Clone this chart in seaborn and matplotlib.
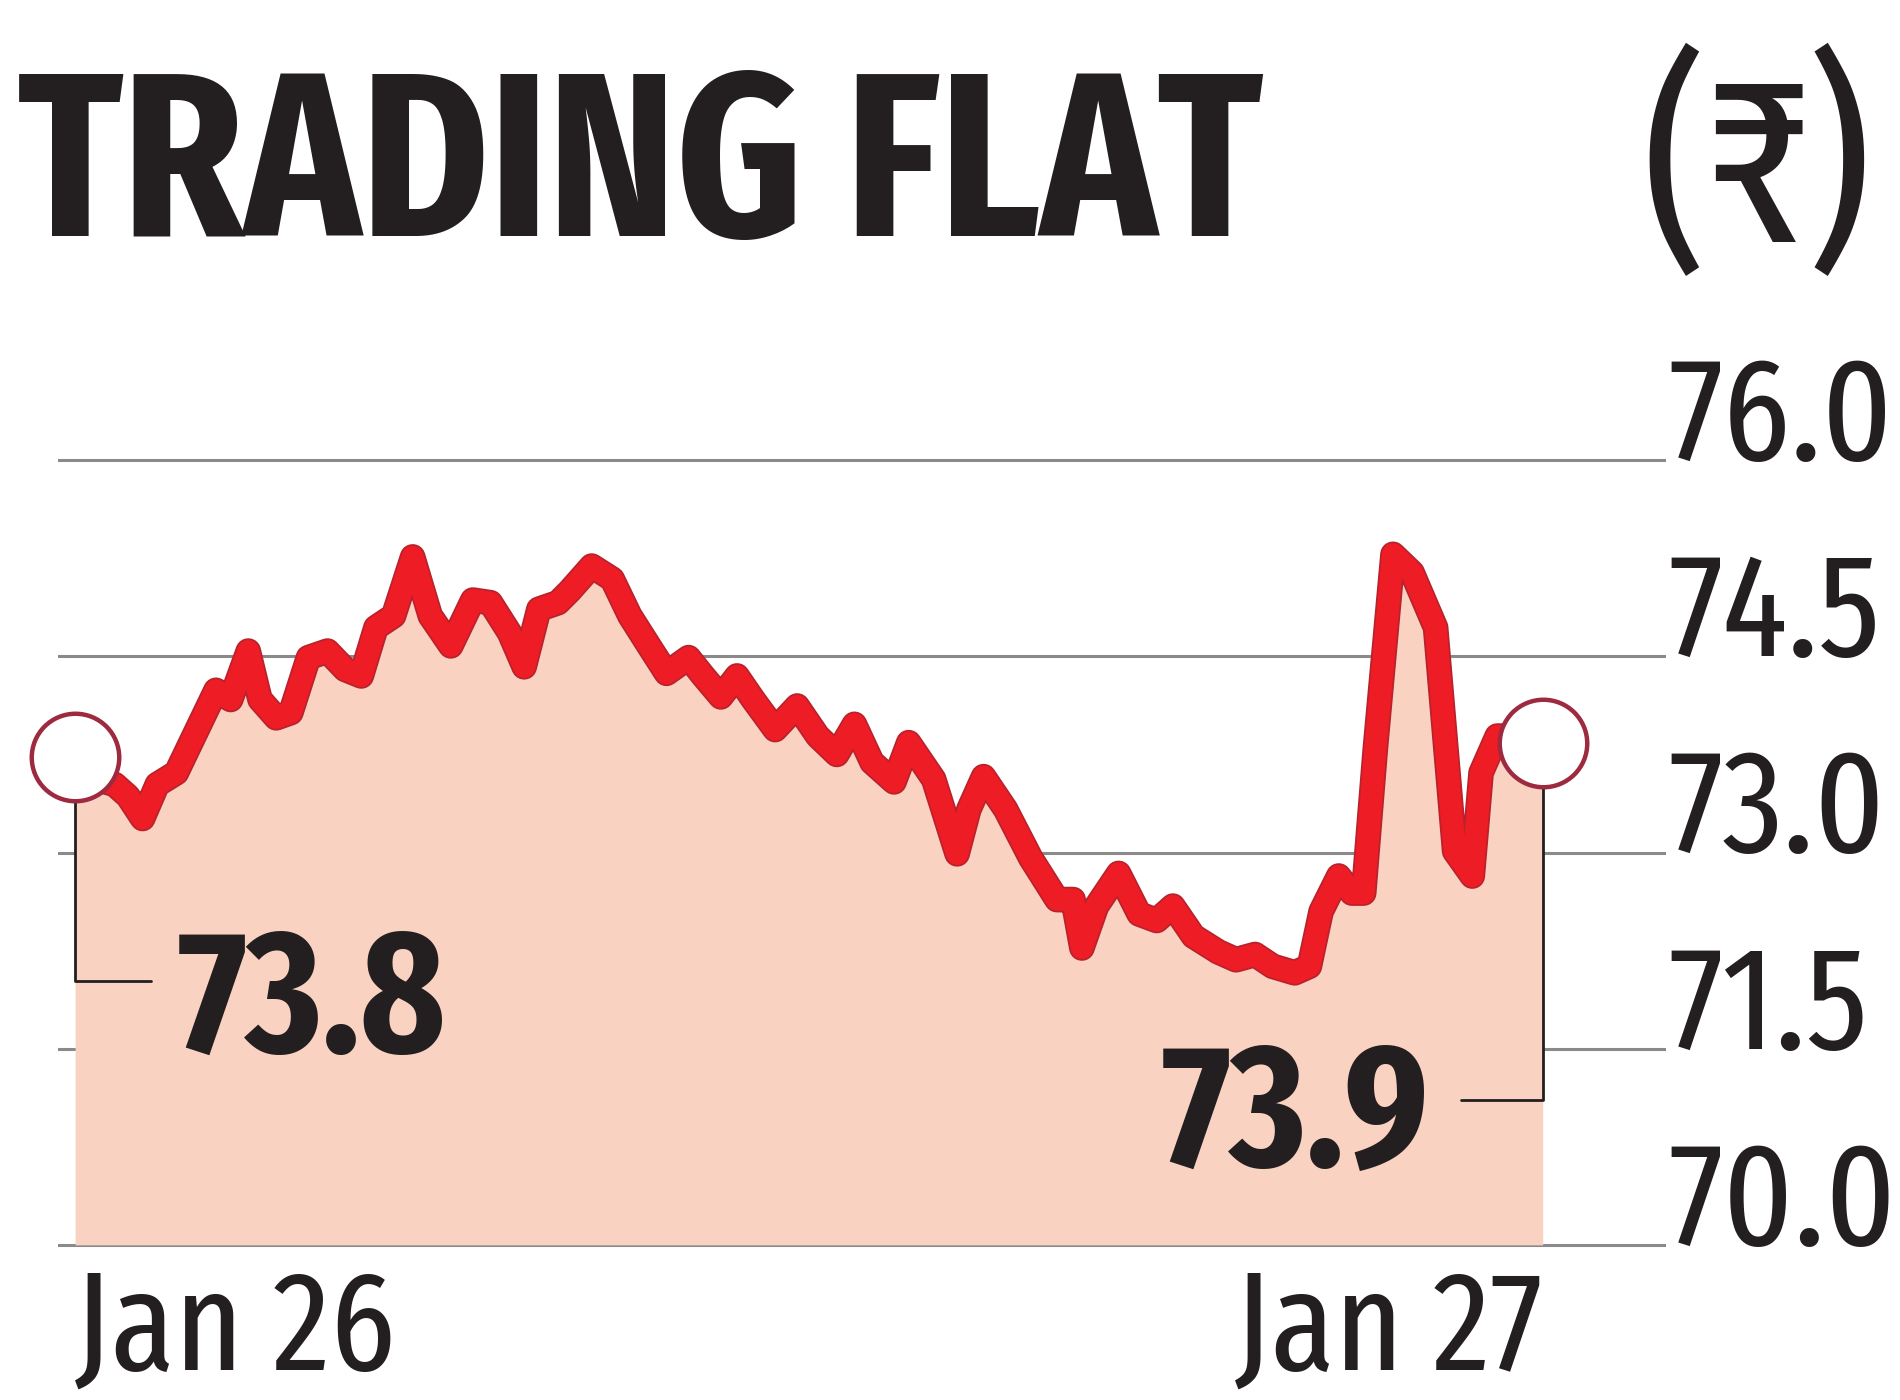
import matplotlib
matplotlib.use("Agg")
import numpy as np
import pandas as pd
import matplotlib.pyplot as plt
import matplotlib.patheffects as pe
from matplotlib import font_manager
import seaborn as sns

# ── Data ────────────────────────────────────────────────────
session_pct = [0.0, 1.5, 2.7, 3.6, 4.6, 5.6, 6.9, 8.1, 9.6, 10.6,
               11.8, 12.6, 13.7, 14.7, 15.9, 17.2, 18.4, 19.5, 20.5, 21.7,
               23.0, 24.2, 25.6, 27.1, 28.3, 29.6, 30.6, 31.6, 32.9, 33.7,
               35.2, 36.6, 37.8, 39.1, 40.3, 41.8, 42.8, 44.0, 45.1, 46.2,
               47.7, 49.2, 50.6, 51.9, 53.1, 54.3, 55.8, 56.8, 58.5, 60.1,
               60.9, 61.9, 63.4, 65.1, 66.9, 68.0, 68.6, 69.6, 71.1, 72.5,
               73.7, 74.8, 76.2, 77.9, 79.1, 80.4, 81.6, 83.1, 84.1, 84.9,
               86.1, 87.0, 87.8, 88.6, 89.8, 91.1, 92.7, 93.4, 94.0, 95.2,
               95.8, 96.9, 98.5, 100.0]
rate = [73.73, 73.56, 73.52, 73.43, 73.26, 73.52, 73.61, 73.89, 74.24, 74.17,
        74.54, 74.17, 74.03, 74.07, 74.49, 74.54, 74.40, 74.35, 74.72, 74.81,
        75.26, 74.81, 74.58, 74.93, 74.91, 74.68, 74.42, 74.86, 74.91, 75.00,
        75.19, 75.09, 74.81, 74.58, 74.37, 74.49, 74.35, 74.19, 74.35, 74.17,
        73.94, 74.12, 73.89, 73.75, 73.98, 73.69, 73.54, 73.84, 73.56, 72.99,
        73.33, 73.58, 73.33, 72.96, 72.64, 72.64, 72.27, 72.59, 72.84, 72.53,
        72.48, 72.59, 72.36, 72.24, 72.18, 72.22, 72.13, 72.08, 72.13, 72.55,
        72.82, 72.69, 72.69, 73.80, 75.28, 75.14, 74.72, 73.80, 73.01, 72.82,
        73.61, 73.89, 73.89, 73.84]
y_ticks = [70.0, 71.5, 73.0, 74.5, 76.0]
x_ticks = [0, 100]
x_labels = ["Jan 26", "Jan 27"]
open_label = "73.8"
close_label = "73.9"
title = "TRADING FLAT"
unit = "(₹)"

# ── Style ───────────────────────────────────────────────────
sns.set_style("white")
installed = {f.name for f in font_manager.fontManager.ttflist}


def pick(*names):
    for n in names:
        if n in installed:
            return n
    return "DejaVu Sans"


NARROW = pick("Fira Sans Extra Condensed", "Fira Sans Condensed",
              "PT Sans Narrow", "Roboto Condensed", "DejaVu Sans")
plt.rcParams["font.family"] = [NARROW, "DejaVu Sans"]
plt.rcParams["font.stretch"] = "condensed"

RED = "#EE1C25"
RED_EDGE = "#B8222C"
FILL = "#FAD2C2"
GRID = "#8A8A8A"
INK = "#231F20"
RING = "#9E2A40"

df = pd.DataFrame({"session": session_pct, "rate": rate})

W, H = 1900, 1400
fig = plt.figure(figsize=(19, 14), dpi=100)
# axes box in pixels: x 58..1666, y 434..1271
ax = fig.add_axes([58 / W, 1 - 1271 / H, (1666 - 58) / W, (1271 - 434) / H])
ax.set_xlim(-1.165, 108.4)
ax.set_ylim(69.8, 76.2)

# area + line
ax.fill_between(df["session"], df["rate"], 70.0, color=FILL, lw=0, zorder=2)
sns.lineplot(data=df, x="session", y="rate", ax=ax, color=RED, lw=16,
             zorder=3, solid_joinstyle="round", solid_capstyle="round",
             path_effects=[pe.Stroke(linewidth=18.5, foreground=RED_EDGE),
                           pe.Normal()])

# end-point rings
ends = df.iloc[[0, -1]]
ax.plot(ends["session"], ends["rate"], ls="none", marker="o", ms=63,
        mfc="white", mec=RING, mew=3.2, zorder=5, clip_on=False)

# leader lines and labels
t0, v0 = df["session"].iloc[0], df["rate"].iloc[0]
t1, v1 = df["session"].iloc[-1], df["rate"].iloc[-1]
ax.plot([t0, t0, t0 + 5.2], [v0 - 0.32, 72.02, 72.02], color=INK, lw=2,
        zorder=4, clip_on=False)
ax.text(t0 + 7.0, 71.48, open_label, fontsize=126, fontweight="bold",
        color=INK, ha="left", va="baseline", zorder=6)
ax.plot([t1, t1, t1 - 5.6], [v1 - 0.32, 71.11, 71.11], color=INK, lw=2,
        zorder=4, clip_on=False)
ax.text(t1 - 7.7, 70.60, close_label, fontsize=126, fontweight="bold",
        color=INK, ha="right", va="baseline", zorder=6)

# axes / grid
ax.set_yticks(y_ticks, [f"{v:.1f}" for v in y_ticks])
ax.yaxis.tick_right()
ax.grid(axis="y", color=GRID, lw=2.2)
ax.set_axisbelow(True)
ax.tick_params(axis="y", length=0, pad=1.5, labelsize=106, labelcolor=INK)
for lbl in ax.get_yticklabels():
    lbl.set_va("baseline")

ax.set_xticks(x_ticks, x_labels)
ax.tick_params(axis="x", length=0, pad=71, labelsize=102, labelcolor=INK)
xl = ax.get_xticklabels()
xl[0].set_ha("left")
xl[-1].set_ha("right")
for lbl in xl:
    lbl.set_va("baseline")

for s in ax.spines.values():
    s.set_visible(False)
ax.set_xlabel("")
ax.set_ylabel("")

# title
fig.text(18 / W, 1 - 236 / H, title, fontsize=168, fontweight="bold",
         color=INK, ha="left", va="baseline")
fig.text(1757 / W, 1 - 176 / H, unit, fontsize=170, color=INK,
         ha="center", va="center", family=[NARROW, "Noto Sans", "DejaVu Sans"])

fig.savefig("out.png", dpi=100, facecolor="white")
